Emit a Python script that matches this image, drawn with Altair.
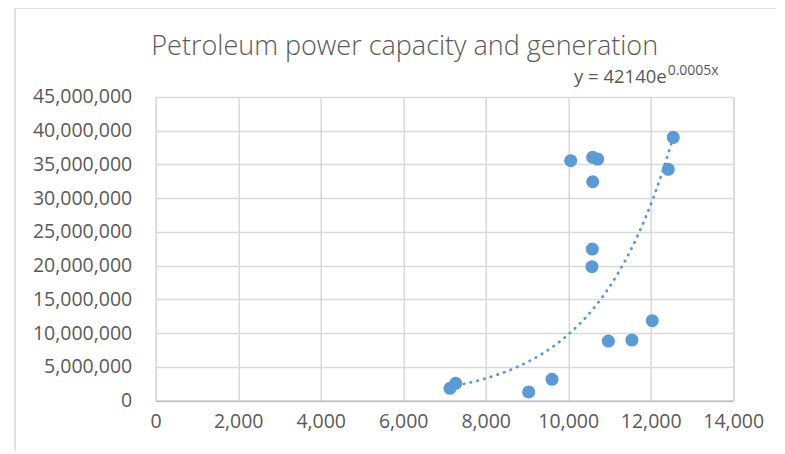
import altair as alt
import numpy as np
import pandas as pd

# Data
capacity = [7135, 7273, 9042, 9608, 10061, 10594, 10715, 10594, 10585, 10576,
            10973, 11545, 12038, 12426, 12548]
generation = [1840000, 2580000, 1290000, 3170000, 35560000, 36060000, 35800000,
              32440000, 22470000, 19850000, 8840000, 8990000, 11850000, 34280000,
              39020000]
x_ticks = [0, 2000, 4000, 6000, 8000, 10000, 12000, 14000]
y_ticks = [0, 5000000, 10000000, 15000000, 20000000, 25000000, 30000000,
           35000000, 40000000, 45000000]
title_text = "Petroleum power capacity and generation"
eq_main = "y = 42140e"
eq_sup = "0.0005x"

df = pd.DataFrame({"cap": capacity, "gen": generation})

# Exponential trendline (least squares on ln y, as the spreadsheet does)
b, ln_a = np.polyfit(np.array(capacity, float), np.log(np.array(generation, float)), 1)
tx = np.linspace(min(capacity), max(capacity), 80)
trend_df = pd.DataFrame({"cap": tx, "gen": np.exp(ln_a + b * tx)})

one = pd.DataFrame({"k": [0]})

FONT = "Open Sans"
GRAY = "#595959"
BLUE = "#5B9BD5"
W, H = 577.5, 303.7

xs = alt.Scale(domain=[0, 14000], nice=False)
ys = alt.Scale(domain=[0, 45000000], nice=False)

points = alt.Chart(df).mark_circle(size=170, opacity=1, color=BLUE).encode(
    x=alt.X("cap:Q", scale=xs, title=None,
            axis=alt.Axis(values=x_ticks, tickCount=len(x_ticks), format=",d",
                          labelFont=FONT, labelFontSize=19.5, labelColor=GRAY,
                          labelPadding=12, labelOverlap=False, labelFlush=False,
                          ticks=False, domainColor="#bfbfbf", domainWidth=1.5,
                          gridColor="#d9d9d9", gridWidth=1.5)),
    y=alt.Y("gen:Q", scale=ys, title=None,
            axis=alt.Axis(values=y_ticks, tickCount=len(y_ticks), format=",d",
                          labelFont=FONT, labelFontSize=19.5, labelColor=GRAY,
                          labelPadding=24, labelOverlap=False, labelFlush=False,
                          ticks=False, domain=False,
                          gridColor="#d9d9d9", gridWidth=1.5)),
)

trend = alt.Chart(trend_df).mark_line(
    color=BLUE, strokeWidth=2.75, strokeDash=[0.5, 6.5], strokeCap="round"
).encode(
    x=alt.X("cap:Q", scale=xs),
    y=alt.Y("gen:Q", scale=ys),
)

title = alt.Chart(one).mark_text(
    text=title_text, font=FONT, fontSize=27, fontWeight=300, color=GRAY,
    align="center", baseline="alphabetic"
).encode(x=alt.value(249), y=alt.value(-42))

eq1 = alt.Chart(one).mark_text(
    text=eq_main, font=FONT, fontSize=18.5, color=GRAY,
    align="right", baseline="alphabetic"
).encode(x=alt.value(511), y=alt.value(-14))

eq2 = alt.Chart(one).mark_text(
    text=eq_sup, font=FONT, fontSize=14, color=GRAY,
    align="left", baseline="alphabetic"
).encode(x=alt.value(512), y=alt.value(-22))

frame_top = alt.Chart(one).mark_rule(color="#d9d9d9", strokeWidth=1.5).encode(
    x=alt.value(-140.7), x2=alt.value(640), y=alt.value(-89))
frame_left = alt.Chart(one).mark_rule(color="#d9d9d9", strokeWidth=1.5).encode(
    x=alt.value(-140.7), y=alt.value(-89), y2=alt.value(400))

chart = alt.layer(
    frame_top, frame_left, points, trend, title, eq1, eq2
).properties(
    width=W, height=H,
    autosize=alt.AutoSizeParams(type="none"),
    padding={"left": 147.7, "top": 89, "right": 43, "bottom": 50},
).configure_view(stroke=None).configure(background="white")

chart.save("out.html", embed_options={"renderer": "svg", "actions": False})
